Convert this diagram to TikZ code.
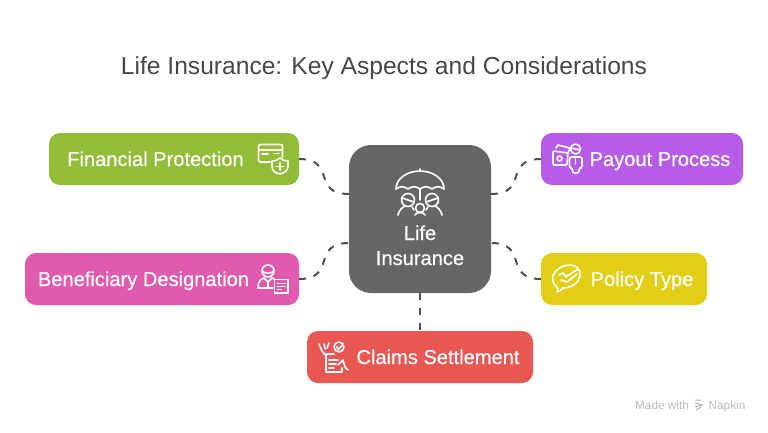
\documentclass[tikz,border=0pt]{standalone}
\usepackage{fontspec}
\setmainfont{Liberation Sans}
\newfontfamily\labfont[FakeBold=0.4]{Liberation Sans}
\definecolor{cgreen}{HTML}{92BD39}
\definecolor{cpurple}{HTML}{B75CE6}
\definecolor{cpink}{HTML}{E05AAD}
\definecolor{cyellow}{HTML}{E2CE14}
\definecolor{cred}{HTML}{E85752}
\definecolor{cgray}{HTML}{666666}
\definecolor{cline}{HTML}{4F4F4F}
\tikzset{
  box/.style={rounded corners=11pt,inner sep=0,outer sep=0,minimum height=52pt},
  hub/.style={rounded corners=22pt,inner sep=0,outer sep=0,minimum width=142pt,minimum height=148pt,fill=cgray},
  lab/.style={text=white,font=\labfont\fontsize{20.1}{22}\selectfont,inner sep=0,anchor=base},
  link/.style={draw=cline,line width=2pt,dash pattern=on 7pt off 8pt},
  ico/.style={draw=white,line width=1.6pt,line cap=round,line join=round},
}
\begin{document}
\begin{tikzpicture}[x=1pt,y=-1pt]
\useasboundingbox (0,0) rectangle (768,432);
\node[text=black!72,font=\fontsize{24.6}{28}\selectfont,inner sep=0,anchor=base] (title) at (384,74.5) {Life Insurance: Key Aspects and Considerations};
% boxes
\node[hub] (hub) at (420,219) {};
\node[box,fill=cgreen,minimum width=250pt] (fin) at (174,159) {};
\node[box,fill=cpink,minimum width=274pt] (ben) at (162,279) {};
\node[box,fill=cpurple,minimum width=202pt] (pay) at (642,159) {};
\node[box,fill=cyellow,minimum width=166pt] (pol) at (624,279) {};
\node[box,fill=cred,minimum width=226pt] (cla) at (420,357) {};
% labels
\node[lab] (tfin) at (155.5,166) {Financial Protection};
\node[lab] (tben) at (143.5,286) {Beneficiary Designation};
\node[lab] (tpay) at (660,166) {Payout Process};
\node[lab] (tpol) at (642,286) {Policy Type};
\node[lab] (tcla) at (438,364) {Claims Settlement};
\node[lab] (tlife) at (420,240) {Life};
\node[lab] (tins) at (420,265) {Insurance};
% hub ports
\coordinate (hl1) at (349,194);
\coordinate (hl2) at (349,243);
\coordinate (hr1) at (491,194);
\coordinate (hr2) at (491,243);
% connectors
\draw[link] (fin.east) .. controls (337,159) and (311,194) .. (hl1);
\draw[link] (ben.east) .. controls (337,279) and (311,243) .. (hl2);
\draw[link] (pay.west) .. controls (503,159) and (529,194) .. (hr1);
\draw[link] (pol.west) .. controls (503,279) and (529,243) .. (hr2);
\draw[link] (hub.south) -- (cla.north);
% hub icon: umbrella and family
\draw[ico] (396,189) .. controls (396,178) and (408,171) .. (420,171) .. controls (432,171) and (444,178) .. (444,189);
\draw[ico] (420,171) -- (420,169);
\draw[ico] (396,189) .. controls (400,186) and (404,186) .. (408,189) .. controls (412,186) and (416,186) .. (420,189) .. controls (424,186) and (428,186) .. (432,189) .. controls (436,186) and (440,186) .. (444,189);
\draw[ico] (420,189) -- (420,200);
\draw[ico] (408,200) circle (6.5);
\draw[ico] (432,200) circle (6.5);
\draw[ico] (420,208) circle (4.5);
\draw[ico] (402,198) -- (414,202);
\draw[ico] (438,198) -- (426,202);
\draw[ico] (398,215) .. controls (399,210) and (402,208) .. (404,206.5);
\draw[ico] (412,207) -- (414,210);
\draw[ico] (442,215) .. controls (441,210) and (438,208) .. (436,206.5);
\draw[ico] (428,207) -- (426,210);
\draw[ico] (415,215) .. controls (416,213) and (418,212.5) .. (420,212.5) .. controls (422,212.5) and (424,213) .. (425,215);
% financial icon: card + shield
\draw[ico,rounded corners=2pt] (270,162) -- (258.5,162) -- (258.5,144.5) -- (282.5,144.5) -- (282.5,157);
\draw[ico] (258.5,150) -- (282.5,150);
\draw[ico] (262,154) -- (268,154);
\draw[ico] (274,153.5) -- (279,153.5);
\draw[ico] (272,161) .. controls (275,161) and (278,160) .. (280,158) .. controls (282,160) and (285,161) .. (288,161) -- (288,166) .. controls (288,171) and (284,173) .. (280,174) .. controls (275,173) and (272,171) .. (272,166) -- cycle;
\draw[ico] (280,162.5) -- (280,170) (276.5,166.5) -- (283.5,166.5);
% payout icon
\draw[ico,rounded corners=1pt] (553,151) -- (568,153) -- (567,165) -- (553,165) -- cycle;
\draw[ico] (559.5,158.5) circle (2.5);
\draw[ico] (556,148) -- (558,145) -- (570,148) -- (568,153);
\draw[ico] (575.5,149) circle (5);
\draw[ico] (571,148) -- (580,150);
\draw[ico,rounded corners=2pt] (572.5,173) -- (572.5,168) -- (569.5,168) -- (569.5,157) -- (582,157) -- (582,168) -- (579,168) -- (579,173) -- cycle;
\draw[ico] (575.5,157) -- (575.5,164);
% beneficiary icon
\draw[ico] (268,271) circle (6);
\draw[ico] (262,271) .. controls (265,274) and (271,274) .. (274,271);
\draw[ico] (258,288) -- (258.5,283) .. controls (259,280) and (262,279) .. (264,278) -- (268,282) -- (272,278) -- (274,279);
\draw[ico] (258,288) -- (273,288);
\draw[ico] (268,282) -- (268,288);
\draw[ico] (274.5,279.5) rectangle (288,293);
\draw[ico] (277.5,283.5) -- (285,283.5) (277.5,286.5) -- (285,286.5) (277.5,289.5) -- (281,289.5);
% policy icon
\draw[ico] (557,292) .. controls (558,289) and (558,288) .. (557,287) .. controls (553,284) and (552,280) .. (553,276) .. controls (555,269) and (563,265) .. (570,265) .. controls (577,265) and (581,270) .. (580,276) .. controls (579,283) and (571,288) .. (563,288) .. controls (561,290) and (559,292) .. (557,292) -- cycle;
\draw[ico] (559,275) -- (563,273) -- (566,277) -- (578,269);
\draw[ico] (561,280) -- (567,282) -- (577,274);
% claims icon
\draw[ico] (326,354) -- (326,372) -- (342,372) -- (342,368);
\draw[ico] (326,354) -- (334,354);
\draw[ico] (329,360) -- (338,360) (329,364) -- (336,364) (329,368) -- (334,368);
\draw[ico] (339,347) circle (5);
\draw[ico] (336.5,347) -- (338.5,349.5) -- (343,344);
\draw[ico] (319,344) -- (322,351) -- (326,356);
\draw[ico] (324,344) -- (325,349);
\draw[ico] (329,343) -- (327,348);
\draw[ico] (338,365) -- (343,360) -- (345,367) -- (348,370);
% footer
\node[text=black!27,font=\fontsize{11.8}{13}\selectfont,inner sep=0,anchor=base] (made) at (662,409) {Made with};
\node[text=black!27,font=\fontsize{11.8}{13}\selectfont,inner sep=0,anchor=base] (nap) at (727,409) {Napkin};
\draw[black!30,line width=1pt] (695,400) -- (701,400) (695,403) -- (703,405) (695,407) -- (702,405) (696,410) -- (701,407);
\end{tikzpicture}
\end{document}
